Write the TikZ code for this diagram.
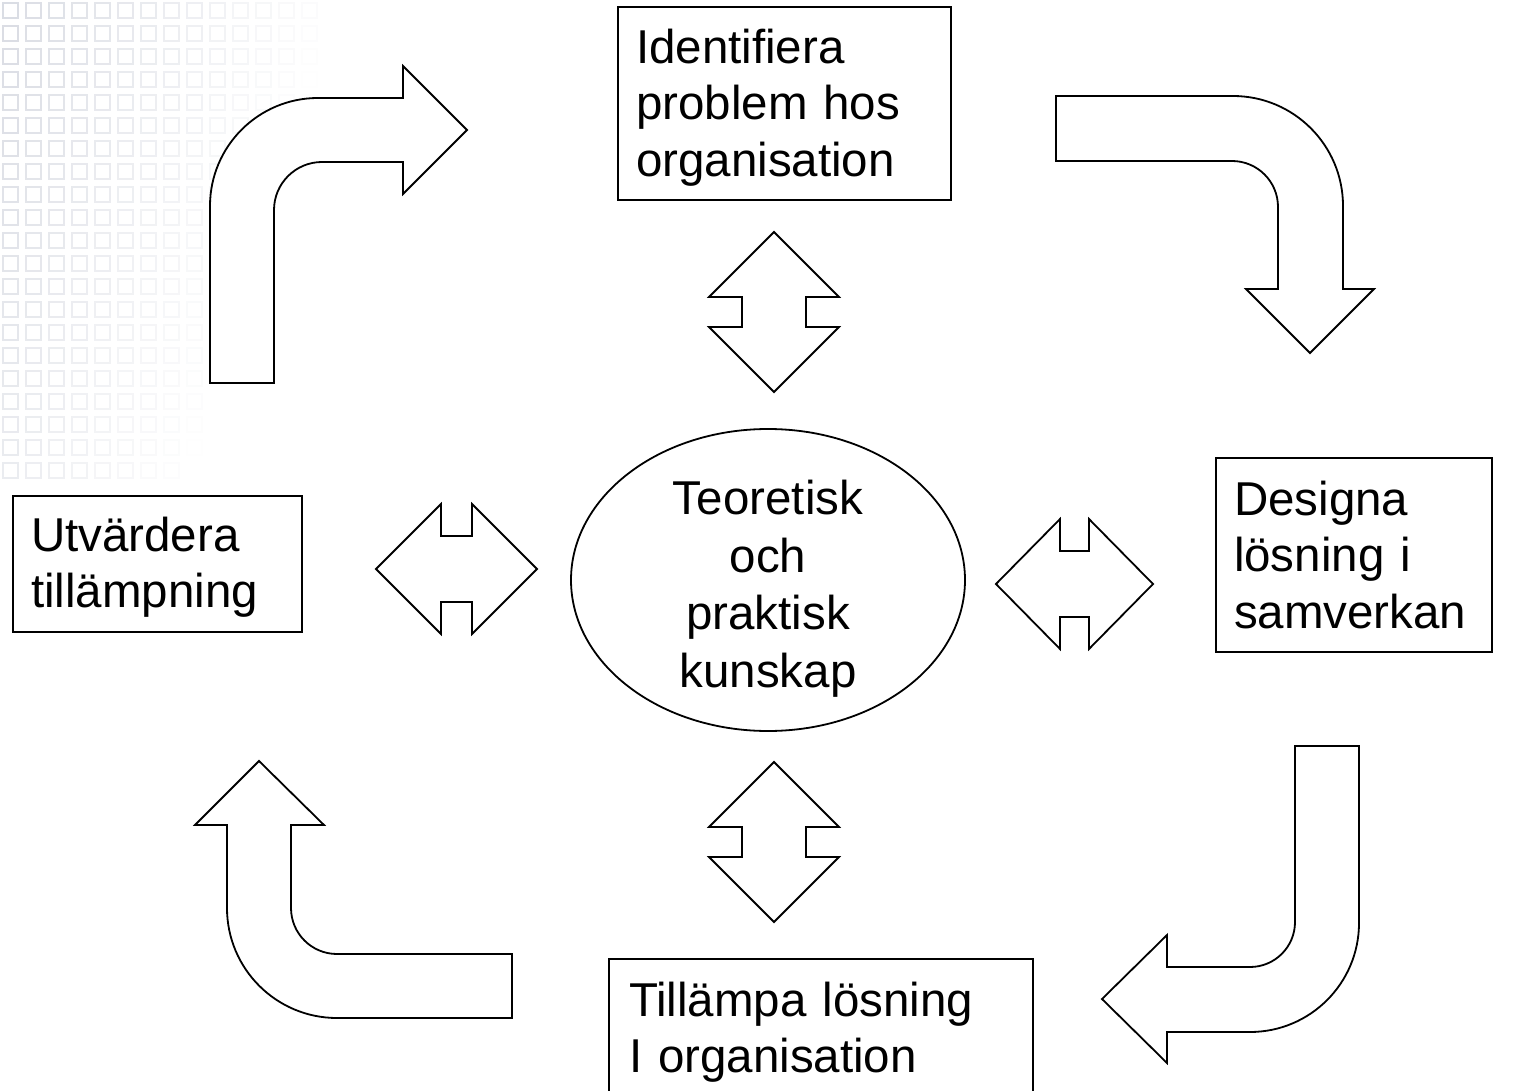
\documentclass[tikz,border=0pt]{standalone}
\usepackage{fontspec}
\setmainfont{Liberation Sans}
\usetikzlibrary{positioning, shapes}
\tikzstyle{phaseBox} = [
    rectangle,
    draw,
    fill=white,
    line width=1.8pt,
    align=left,
    inner xsep=18pt,
    font=\fontsize{47.5pt}{56.5pt}\selectfont
    ]
\tikzstyle{knowledgeEllipse} = [
    ellipse,
    draw,
    fill=white,
    line width=1.8pt,
    align=center,
    text width=200pt,
    inner sep=-2pt,
    minimum width=394pt,
    minimum height=302pt,
    font=\fontsize{47.5pt}{57.5pt}\selectfont
    ]
\tikzstyle{blockArrow} = [
    draw,
    fill=white,
    line width=1.8pt,
    line join=miter
    ]
\tikzstyle{gridSquare} = [
    draw={rgb,255:red,140;green,148;blue,170},
    line width=1.3pt
    ]

\begin{document}
\begin{tikzpicture}[x=1pt, y=-1pt]
      \useasboundingbox (0,0) rectangle (1515,1091);
      % faint background pattern
      \foreach \col in {0,...,13}
        \foreach \row in {0,...,20}
          {\pgfmathsetmacro{\shade}{max(0,0.32-0.022*\col-0.007*\row)}
           \draw[gridSquare, draw opacity=\shade] (3+23*\col,3+23*\row) rectangle ++(15,15);}

      \node[phaseBox, text width=297pt, text height=42pt, minimum height=193pt] at (784.5,103.5) (identify) {Identifiera\\problem hos\\organisation};
      \node[phaseBox, text width=240pt, minimum height=194pt] at (1354,555) (design) {Designa\\lösning i\\samverkan};
      \node[phaseBox, text width=384pt, inner xsep=20pt, inner ysep=23pt, anchor=north] at (821,958) (apply) {Tillämpa lösning\\I organisation};
      \node[phaseBox, text width=253pt, text height=41pt, minimum height=136pt] at (157.5,564) (evaluate) {Utvärdera\\tillämpning};
      \node[knowledgeEllipse, text height=42.7pt, text depth=173.4pt] at (768,580) (theory) {Teoretisk\\och\\praktisk\\kunskap};

      % bent arrows of the cycle
      \draw[blockArrow] (210,383) -- (210,206) arc[start angle=180, end angle=90, radius=108pt]
        -- (403,98) -- (403,66) -- (467,130) -- (403,194) -- (403,162) -- (322,162)
        arc[start angle=90, end angle=180, radius=48pt] -- (274,383) -- cycle;
      \draw[blockArrow] (1056,96) -- (1233,96) arc[start angle=90, end angle=0, radius=110pt]
        -- (1343,289) -- (1374,289) -- (1310,353) -- (1246,289) -- (1278,289) -- (1278,207)
        arc[start angle=0, end angle=90, radius=46pt] -- (1056,161) -- cycle;
      \draw[blockArrow] (1295,746) -- (1359,746) -- (1359,923) arc[start angle=0, end angle=-90, radius=109pt]
        -- (1167,1032) -- (1167,1063) -- (1102,999) -- (1167,935) -- (1167,967) -- (1250,967)
        arc[start angle=-90, end angle=0, radius=45pt] -- cycle;
      \draw[blockArrow] (512,1018) -- (337,1018) arc[start angle=-90, end angle=-180, radius=110pt]
        -- (227,825) -- (195,825) -- (259,761) -- (324,825) -- (291,825) -- (291,908)
        arc[start angle=180, end angle=270, radius=46pt] -- (512,954) -- cycle;

      % double arrows to the centre
      \draw[blockArrow] (774,232) -- (839,297) -- (806,297) -- (806,327) -- (839,327) -- (774,392)
        -- (709,327) -- (742,327) -- (742,297) -- (709,297) -- cycle;
      \draw[blockArrow] (774,762) -- (839,827) -- (806,827) -- (806,857) -- (839,857) -- (774,922)
        -- (709,857) -- (742,857) -- (742,827) -- (709,827) -- cycle;
      \draw[blockArrow] (376,569) -- (441,504) -- (441,536) -- (472,536) -- (472,504) -- (537,569)
        -- (472,634) -- (472,602) -- (441,602) -- (441,634) -- cycle;
      \draw[blockArrow] (996,584) -- (1060,519) -- (1060,551) -- (1089,551) -- (1089,519) -- (1153,584)
        -- (1089,649) -- (1089,617) -- (1060,617) -- (1060,649) -- cycle;
    \end{tikzpicture}
\end{document}
